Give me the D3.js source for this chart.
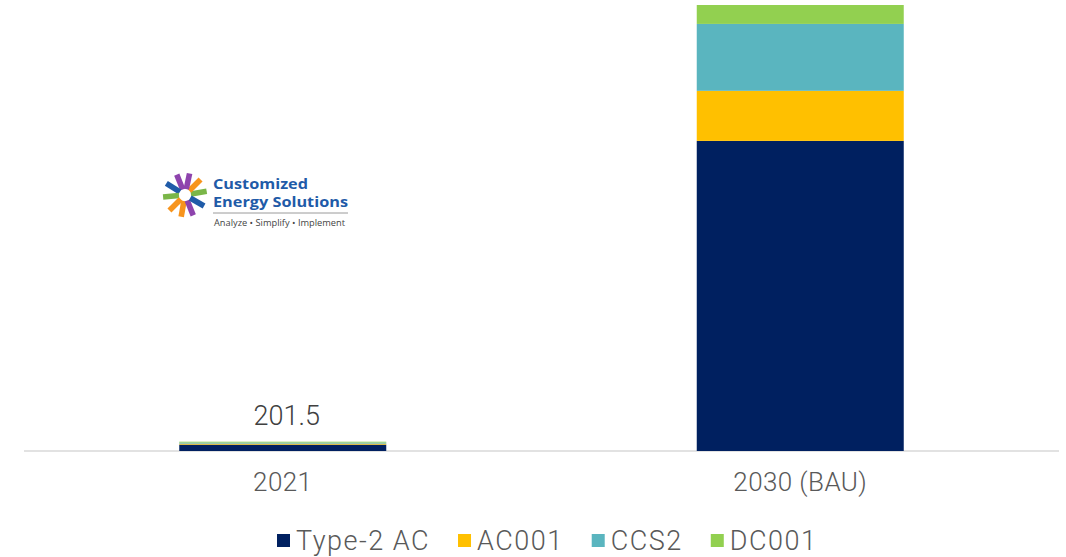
<!DOCTYPE html>
<html>
<head>
<meta charset="utf-8">
<script src="https://cdn.jsdelivr.net/npm/d3@7"></script>
<style>
  html, body { margin: 0; padding: 0; background: #fff; }
  svg { display: block; }
</style>
</head>
<body>
<div id="chart"></div>
<script>
// data
const categories = ['2021', '2030 (BAU)'];
const seriesNames = ['Type-2 AC', 'AC001', 'CCS2', 'DC001'];
const seriesColors = ['#002060', '#FFC000', '#5AB5BF', '#92D050'];
const type2AC = [138, 6720];
const ac001   = [22, 1085];
const ccs2    = [24, 1450];
const dc001   = [17.5, 410];
const totalLabels = ['201.5', null];

const W = 1066, H = 557;
const svg = d3.select('#chart').append('svg').attr('width', W).attr('height', H);
const font = 'Roboto, "Open Sans", sans-serif';

const rows = categories.map((c, i) => ({
  cat: c, 'Type-2 AC': type2AC[i], 'AC001': ac001[i], 'CCS2': ccs2[i], 'DC001': dc001[i]
}));
const stack = d3.stack().keys(seriesNames)(rows);

const x = d3.scaleBand().domain(categories).range([24, 1059]).paddingInner(0.6).paddingOuter(0.3);
const yMax = d3.max(rows, r => seriesNames.reduce((s, k) => s + r[k], 0));
const y = d3.scaleLinear().domain([0, yMax]).range([451, 5]);
const color = d3.scaleOrdinal().domain(seriesNames).range(seriesColors);

// baseline
svg.append('line').attr('x1', 24).attr('x2', 1059).attr('y1', y(0)).attr('y2', y(0))
  .attr('stroke', '#d9d9d9').attr('stroke-width', 1.5);

svg.selectAll('g.series').data(stack).join('g').attr('class', 'series')
  .attr('fill', d => color(d.key))
  .selectAll('rect').data(d => d).join('rect')
  .attr('x', d => x(d.data.cat)).attr('width', x.bandwidth())
  .attr('y', d => y(d[1])).attr('height', d => y(d[0]) - y(d[1]));

// total label
categories.forEach((c, i) => {
  if (!totalLabels[i]) return;
  const tot = seriesNames.reduce((s, k) => s + rows[i][k], 0);
  svg.append('text').attr('x', x(c) + x.bandwidth() / 2 + 4).attr('y', y(tot) - 17)
    .attr('text-anchor', 'middle').attr('fill', '#404040')
    .attr('font-family', font).attr('font-weight', 300).attr('font-size', 27)
    .text(totalLabels[i]);
});

// category axis
const xAxis = svg.append('g').attr('transform', `translate(0,${y(0)})`)
  .call(d3.axisBottom(x).tickSize(0).tickPadding(22));
xAxis.select('.domain').remove();
xAxis.selectAll('text').attr('fill', '#595959').attr('font-family', font)
  .attr('font-weight', 300).attr('font-size', 26).attr('letter-spacing', 0.4);

// legend
let lx = 277;
seriesNames.forEach((name, i) => {
  svg.append('rect').attr('x', lx).attr('y', 534).attr('width', 13).attr('height', 13)
    .attr('fill', color(name));
  const t = svg.append('text').attr('x', lx + 19).attr('y', 550)
    .attr('fill', '#595959').attr('font-family', font).attr('font-weight', 300)
    .attr('font-size', 27).attr('letter-spacing', 1.5).text(name);
  lx += 19 + t.node().getComputedTextLength() + 28;
});

// logo
const logo = svg.append('g').attr('transform', 'translate(185,195)');
const rays = [
  [-10, '#7AB648'], [-45, '#F7941D'], [-78, '#8E44AD'], [-112, '#8E44AD'], [-148, '#1F5BA8'],
  [175, '#7AB648'], [135, '#F7941D'], [100, '#F7941D'], [68, '#8E44AD'], [30, '#1F5BA8']
];
rays.forEach(([a, c]) => {
  logo.append('rect').attr('x', 6).attr('y', -2.8).attr('width', 16).attr('height', 5.6)
    .attr('fill', c).attr('transform', `rotate(${a})`);
});
const lt = svg.append('g').attr('font-family', '"Open Sans", sans-serif');
lt.append('text').attr('x', 213).attr('y', 189).attr('fill', '#1F5BA8')
  .attr('font-weight', 700).attr('font-size', 14.5)
  .attr('textLength', 95).attr('lengthAdjust', 'spacingAndGlyphs').text('Customized');
lt.append('text').attr('x', 213).attr('y', 207).attr('fill', '#1F5BA8')
  .attr('font-weight', 700).attr('font-size', 14.5)
  .attr('textLength', 135).attr('lengthAdjust', 'spacingAndGlyphs').text('Energy Solutions');
lt.append('line').attr('x1', 213).attr('x2', 348).attr('y1', 213).attr('y2', 213)
  .attr('stroke', '#9a9a9a').attr('stroke-width', 1);
lt.append('text').attr('x', 214).attr('y', 226).attr('fill', '#444')
  .attr('font-size', 9.5).attr('textLength', 131).attr('lengthAdjust', 'spacingAndGlyphs')
  .text('Analyze • Simplify • Implement');
</script>
</body>
</html>
